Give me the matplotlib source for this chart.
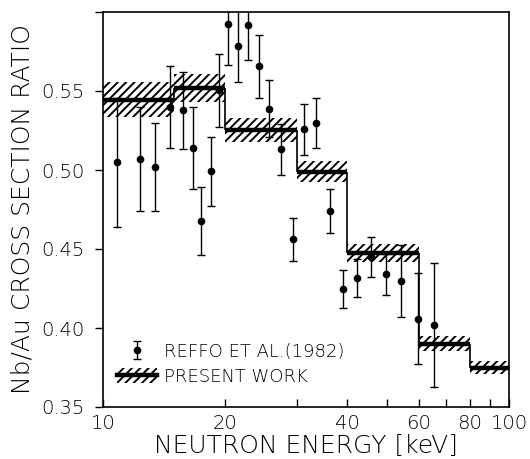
import matplotlib
matplotlib.use("Agg")
import matplotlib.pyplot as plt
from matplotlib.patches import Patch
from matplotlib.lines import Line2D
from matplotlib.legend_handler import HandlerTuple
from matplotlib.ticker import NullFormatter

# present work: binned Nb/Au ratio with uncertainty
bin_edges = [10, 15, 20, 30, 40, 60, 80, 100]
ratio = [0.5445, 0.552, 0.5255, 0.499, 0.4475, 0.390, 0.375]
ratio_err = [0.011, 0.009, 0.0075, 0.0065, 0.0055, 0.0048, 0.004]

# Reffo et al. (1982)
reffo_energy = [10.84, 12.33, 13.43, 14.62, 15.77, 16.63, 17.43, 18.42, 19.34,
                20.28, 21.47, 22.80, 24.23, 25.68, 27.44, 29.32, 31.31, 33.46,
                36.24, 39.08, 42.17, 45.64, 49.77, 54.2, 59.6, 65.46]
reffo_ratio = [0.5048, 0.5069, 0.502, 0.5399, 0.5378, 0.514, 0.468, 0.4991, 0.5504,
               0.5927, 0.5786, 0.5916, 0.5656, 0.5388, 0.513, 0.4562, 0.5258, 0.5298,
               0.4741, 0.4244, 0.4316, 0.4448, 0.4339, 0.4299, 0.406, 0.4019]
reffo_err = [0.041, 0.033, 0.028, 0.026, 0.0245, 0.026, 0.0215, 0.022, 0.023,
             0.026, 0.023, 0.022, 0.020, 0.018, 0.016, 0.0135, 0.016, 0.016,
             0.0137, 0.012, 0.012, 0.0128, 0.013, 0.0227, 0.029, 0.039]

plt.rcParams['hatch.linewidth'] = 1.4
plt.rcParams['font.family'] = 'DejaVu Sans'
plt.rcParams['font.weight'] = 'light'
plt.rcParams['axes.labelweight'] = 'light'

fig = plt.figure(figsize=(5.3, 4.59), dpi=100)
ax = fig.add_axes([103 / 530, 52 / 459, 406 / 530, 395 / 459])
ax.set_xscale('log')

# hatched uncertainty bands and thick step levels
for i in range(len(ratio)):
    lo, hi = bin_edges[i], bin_edges[i + 1]
    ax.fill_between([lo, hi], ratio[i] - ratio_err[i], ratio[i] + ratio_err[i],
                    facecolor='white', edgecolor='black', hatch='////', linewidth=0)
for i in range(len(ratio)):
    ax.hlines(ratio[i], bin_edges[i], bin_edges[i + 1], color='black', lw=3.2)
for i in range(len(ratio) - 1):
    ax.vlines(bin_edges[i + 1], ratio[i + 1], ratio[i], color='black', lw=1.2)

eb = ax.errorbar(reffo_energy, reffo_ratio, yerr=reffo_err, fmt='o', color='black',
                 markersize=4.5, elinewidth=1, capsize=3, capthick=1)

ax.set_xlim(10, 100)
ax.set_ylim(0.35, 0.60)
ax.set_xticks([10, 20, 40, 60, 80, 100])
ax.set_xticklabels(['10', '20', '40', '60', '80', '100'])
ax.set_xticks([30, 50, 70, 90], minor=True)
ax.xaxis.set_minor_formatter(NullFormatter())
ax.set_yticks([0.35, 0.40, 0.45, 0.50, 0.55, 0.60])
ax.set_yticklabels(['0.35', '0.40', '0.45', '0.50', '0.55', ''])

ax.tick_params(axis='x', which='both', direction='in', length=6, width=1,
               labelsize=14, pad=5)
ax.tick_params(axis='y', direction='out', length=6, width=1, labelsize=14, pad=7)
for s in ax.spines.values():
    s.set_linewidth(1.2)

ax.set_xlabel('NEUTRON ENERGY [keV]', fontsize=18, labelpad=1)
ax.set_ylabel('Nb/Au CROSS SECTION RATIO', fontsize=18, labelpad=5)

band_handle = (Patch(facecolor='white', edgecolor='black', hatch='////', lw=0),
               Line2D([], [], color='black', lw=3.2))
ax.legend([eb, band_handle], ['REFFO ET AL.(1982)', 'PRESENT WORK'],
          handler_map={tuple: HandlerTuple(ndivide=1)},
          loc='lower left', bbox_to_anchor=(-0.005, 0.012), frameon=False,
          fontsize=13, handlelength=2.2, handleheight=0.9,
          handletextpad=0.4, labelspacing=0.4)

fig.savefig('out.png', dpi=100)
